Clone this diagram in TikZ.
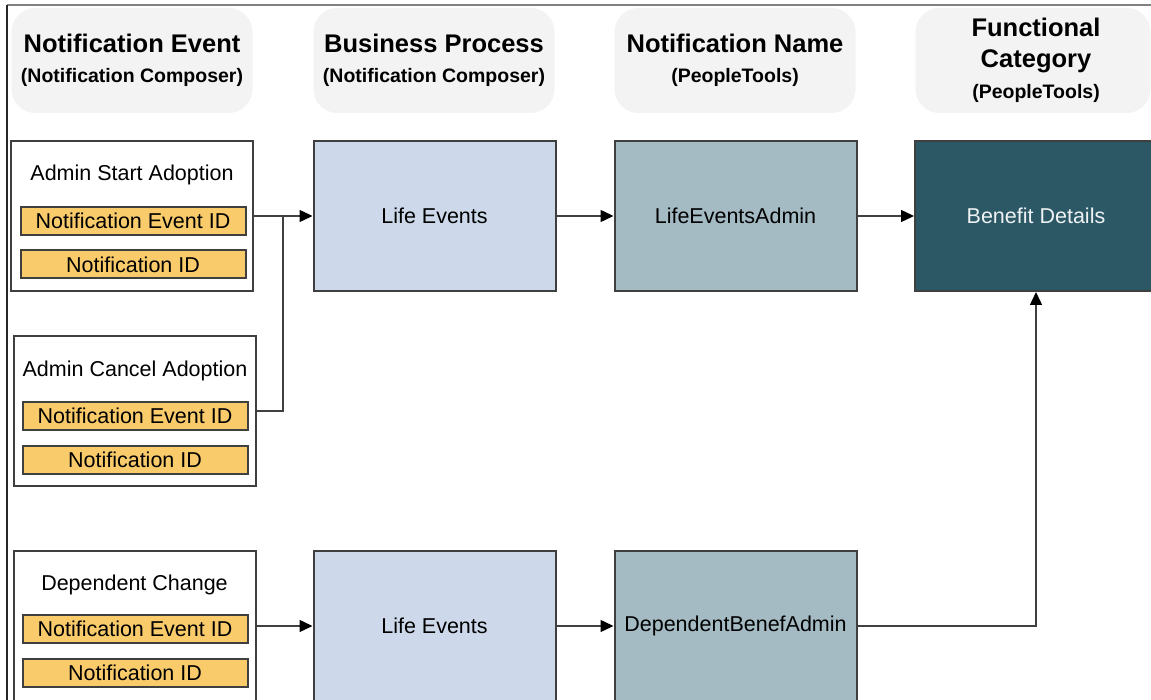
\documentclass[tikz,border=0pt]{standalone}
\usepackage{fontspec}
\setmainfont{Liberation Sans}
\usetikzlibrary{arrows.meta}
\definecolor{hdrfill}{HTML}{F3F3F3}
\definecolor{bpfill}{HTML}{CDD9EA}
\definecolor{nnfill}{HTML}{A4BBC4}
\definecolor{fcfill}{HTML}{2C5866}
\definecolor{barfill}{HTML}{F9CB6A}
\definecolor{edge}{HTML}{3F3F3F}
\definecolor{conn}{HTML}{404040}
\tikzset{
  hdr/.style={fill=hdrfill, rounded corners=24pt, minimum width=241pt, minimum height=105pt, inner sep=0pt},
  htitle/.style={font=\fontsize{25.5}{28}\selectfont\bfseries, inner sep=0pt, anchor=base},
  hsub/.style={font=\fontsize{19.5}{22}\selectfont\bfseries, inner sep=0pt, anchor=base},
  evbox/.style={draw=edge, line width=2pt, fill=white, minimum width=242pt, minimum height=150pt, inner sep=0pt},
  bigbox/.style={draw=edge, line width=2pt, minimum width=242pt, minimum height=150pt, inner sep=0pt, font=\fontsize{21.5}{24}\selectfont},
  bar/.style={draw=edge, line width=2pt, fill=barfill, minimum width=225pt, minimum height=28pt, inner sep=0pt, font=\fontsize{21.5}{24}\selectfont},
  evtitle/.style={inner sep=0pt, font=\fontsize{21.5}{24}\selectfont},
  link/.style={draw=conn, line width=1.4pt},
  arr/.style={link, -{Triangle[length=13pt,width=12pt,color=black]}}
}
\begin{document}
\begin{tikzpicture}[x=1pt,y=-1pt]
\useasboundingbox (0,0) rectangle (1151,700);
\fill[white] (0,0) rectangle (1151,700);
% frame
\draw[color=gray, line width=1.5pt] (7,5) -- (1151,5);
\draw[color=black!85, line width=1.5pt] (7,5) -- (7,700);
% headers
\node[hdr] (h1) at (132,60.5) {};
\node[htitle] (h1t) at (132,53) {Notification Event};
\node[hsub] (h1s) at (132,83) {(Notification Composer)};
\node[hdr] (h2) at (434,60.5) {};
\node[htitle] (h2t) at (434,53) {Business Process};
\node[hsub] (h2s) at (434,83) {(Notification Composer)};
\node[hdr] (h3) at (735,60.5) {};
\node[htitle] (h3t) at (735,53) {Notification Name};
\node[hsub] (h3s) at (735,83) {(PeopleTools)};
\node[hdr, minimum width=235pt] (h4) at (1033,60.5) {};
\node[htitle] (h4a) at (1036,37) {Functional};
\node[htitle] (h4b) at (1036,68) {Category};
\node[hsub] (h4s) at (1036,98.5) {(PeopleTools)};
% event boxes
\node[evbox] (ev1) at (132,216) {};
\node[evtitle] (ev1t) at (132,175) {Admin Start Adoption};
\node[bar] (ev1a) at (133,221) {Notification Event ID};
\node[bar] (ev1b) at (133,264.5) {Notification ID};
\node[evbox] (ev2) at (135,411) {};
\node[evtitle] (ev2t) at (135,371) {Admin Cancel Adoption};
\node[bar] (ev2a) at (135,416) {Notification Event ID};
\node[bar] (ev2b) at (135,460) {Notification ID};
\node[evbox] (ev3) at (134.5,626) {};
\node[evtitle] (ev3t) at (134.5,585) {Dependent Change};
\node[bar] (ev3a) at (135,628.5) {Notification Event ID};
\node[bar] (ev3b) at (135,672.5) {Notification ID};
% process boxes
\node[bigbox, fill=bpfill] (le1) at (434.5,216) {Life Events};
\node[bigbox, fill=bpfill] (le2) at (434.5,626) {Life Events};
\node[bigbox, fill=nnfill] (na1) at (735.5,216) {LifeEventsAdmin};
\node[bigbox, fill=nnfill] (na2) at (735.5,626) {DependentBenefAdmin};
\node[bigbox, fill=fcfill, text=white!92!fcfill] (ben) at (1036,216) {Benefit Details};
% connectors
\coordinate (j) at (283,216);
\draw[arr] (ev1.east) -- (le1.west);
\draw[link] (ev2.east) -| (j);
\draw[arr] (le1.east) -- (na1.west);
\draw[arr] (na1.east) -- (ben.west);
\draw[arr] (ev3.east) -- (le2.west);
\draw[arr] (le2.east) -- (na2.west);
\draw[arr] (na2.east) -| (ben.south);
\end{tikzpicture}
\end{document}
